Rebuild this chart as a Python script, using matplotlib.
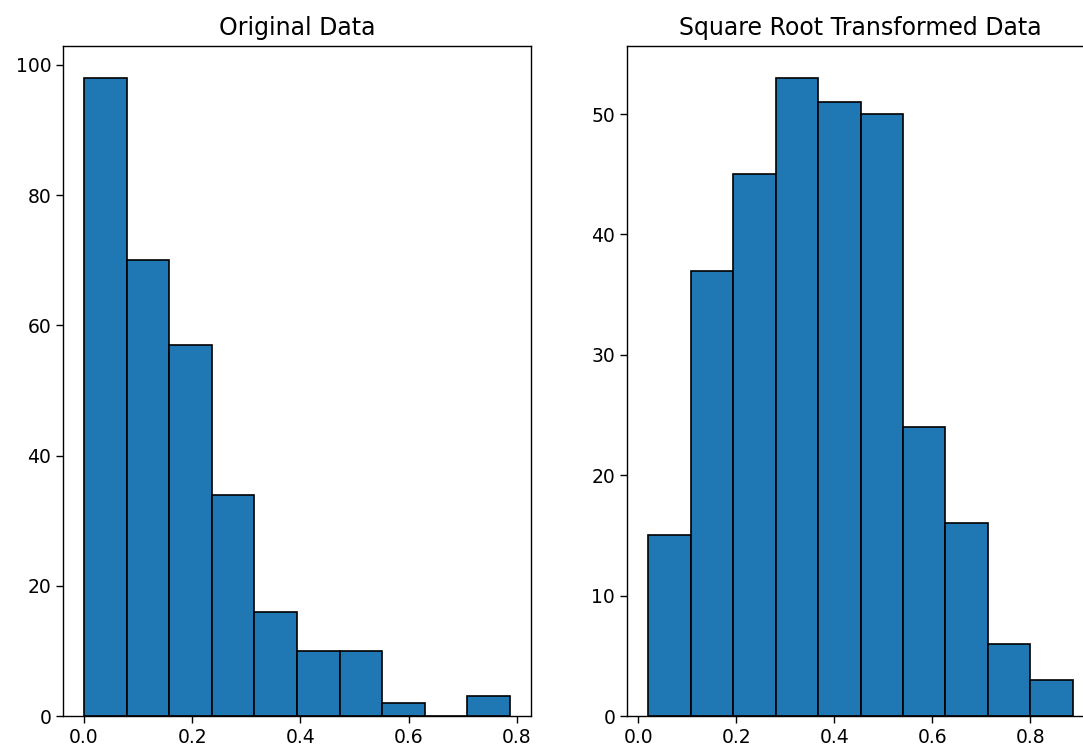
import numpy as np
import matplotlib
matplotlib.use('Agg')
import matplotlib.pyplot as plt

# histogram counts (10 bins each)
orig_counts = [98, 70, 57, 34, 16, 10, 10, 2, 0, 3]
orig_min, orig_max = 0.0004, 0.787

sqrt_counts = [15, 37, 45, 53, 51, 50, 24, 16, 6, 3]
sqrt_min, sqrt_max = 0.0204, 0.887

TITLES = ['Original Data', 'Square Root Transformed Data']
BAR_COLOR = '#1f77b4'


def draw_hist(ax, counts, lo, hi, title):
    edges = np.linspace(lo, hi, len(counts) + 1)
    ax.hist(edges[:-1], bins=edges, weights=counts,
            color=BAR_COLOR, edgecolor='black', linewidth=1.2)
    ax.set_title(title, fontsize=17, pad=8)
    ax.tick_params(labelsize=13.5, length=5, width=1)
    for s in ax.spines.values():
        s.set_linewidth(1.0)


fig = plt.figure(figsize=(10.83, 7.51), dpi=100)
ax1 = fig.add_axes([63 / 1083, 35 / 751, 468 / 1083, 670 / 751])
ax2 = fig.add_axes([627 / 1083, 35 / 751, 467 / 1083, 670 / 751])

draw_hist(ax1, orig_counts, orig_min, orig_max, TITLES[0])
draw_hist(ax2, sqrt_counts, sqrt_min, sqrt_max, TITLES[1])

ax1.set_xticks([0.0, 0.2, 0.4, 0.6, 0.8])
ax2.set_xticks([0.0, 0.2, 0.4, 0.6, 0.8])

fig.savefig('out.png', dpi=100)
